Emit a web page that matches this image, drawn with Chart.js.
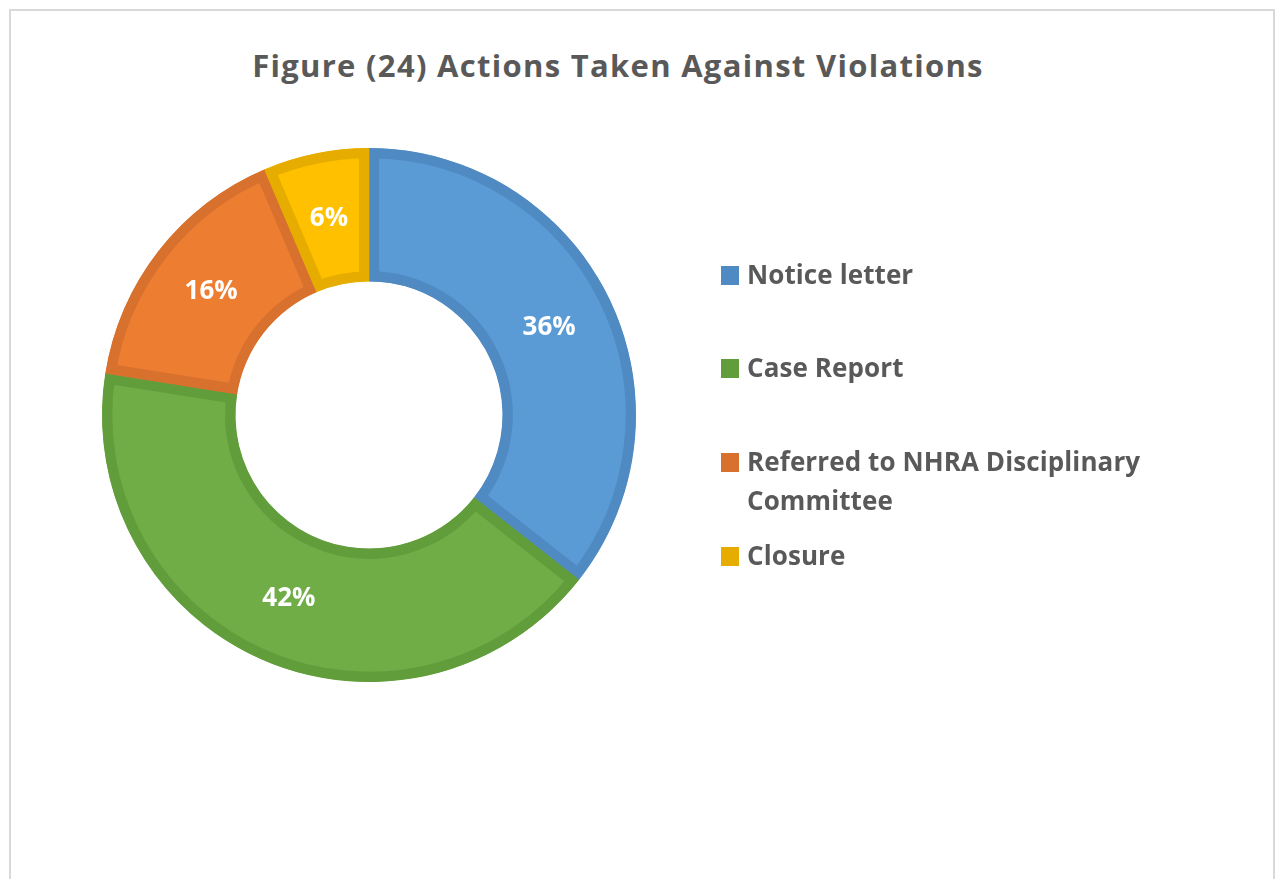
<!DOCTYPE html>
<html>
<head>
<meta charset="utf-8">
<script src="https://cdn.jsdelivr.net/npm/chart.js@4/dist/chart.umd.min.js"></script>
<style>
  html, body {
    margin: 0;
    padding: 0;
    background: #ffffff;
    width: 1276px;
    height: 879px;
    overflow: hidden;
  }

  #frame {
    position: absolute;
    left: 9px;
    top: 9px;
    width: 1262px;
    height: 900px;
    border: 2px solid #d9d9d9;
    box-sizing: content-box;
  }

  #title {
    position: absolute;
    left: 0;
    top: 50px;
    width: 1236px;
    text-align: center;
    font-family: "Open Sans", sans-serif;
    font-weight: bold;
    font-size: 31px;
    line-height: 31px;
    color: #595959;
    letter-spacing: 1.3px;
    white-space: nowrap;
  }

  #chartBox {
    position: absolute;
    left: 0;
    top: 0;
  }

  #legend {
    position: absolute;
    left: 721px;
    top: 0;
  }

  .legend-item {
    position: absolute;
    left: 0;
    width: 480px;
  }

  .legend-box {
    position: absolute;
    left: 0;
    top: 11px;
    width: 18px;
    height: 19px;
  }

  .legend-text {
    position: absolute;
    left: 26px;
    top: 0;
    width: 430px;
    font-family: "Open Sans", sans-serif;
    font-weight: bold;
    font-size: 26px;
    line-height: 39px;
    color: #595959;
    letter-spacing: 0.1px;
  }
</style>
</head>
<body>

<div id="frame"></div>

<div id="title">Figure (24) Actions Taken Against Violations</div>

<canvas id="chartBox" width="1276" height="879"></canvas>

<div id="legend"></div>

<script>

  // data (share of actions, %)
  const labels = [
    'Notice letter',
    'Case Report',
    'Referred to NHRA Disciplinary Committee',
    'Closure'
  ];

  const values = [35.6, 41.9, 16.1, 6.4];

  const fillColors = ['#5b9bd5', '#70ad47', '#ed7d31', '#ffc000'];

  const edgeColors = ['#4f8ac2', '#629d3c', '#d7712d', '#e6ad00'];

  // percentages written inside each slice
  const sliceLabels = {

    id: 'sliceLabels',

    afterDatasetsDraw(chart) {

      const ctx = chart.ctx;

      const meta = chart.getDatasetMeta(0);

      const data = chart.data.datasets[0].data;

      const total = data.reduce((a, b) => a + b, 0);

      ctx.save();

      ctx.font = 'bold 26px "Open Sans", sans-serif';
      ctx.fillStyle = '#ffffff';
      ctx.textAlign = 'center';
      ctx.textBaseline = 'middle';

      meta.data.forEach((arc, i) => {

        const pos = arc.tooltipPosition();

        const pct = Math.round(data[i] / total * 100);

        ctx.fillText(pct + '%', pos.x, pos.y);
      });

      ctx.restore();
    }
  };

  const ctx =
    document
      .getElementById('chartBox')
      .getContext('2d');

  const chart = new Chart(ctx, {

    type: 'doughnut',

    data: {

      labels: labels,

      datasets: [
        {
          data: values,

          backgroundColor: fillColors,

          borderColor: edgeColors,

          borderWidth: 10,

          borderAlign: 'inner',

          hoverOffset: 0,

          offset: 0
        }
      ]
    },

    options: {

      responsive: false,

      animation: false,

      events: [],

      cutout: '50%',

      layout: {

        padding: {
          left: 102,
          top: 148,
          right: 640,
          bottom: 197
        }
      },

      plugins: {

        legend: {
          display: false
        },

        title: {
          display: false
        },

        tooltip: {
          enabled: false
        }
      }
    },

    plugins: [sliceLabels]
  });

  // legend on the right, one slot per category
  const legendEl = document.getElementById('legend');

  const rowTop = 254.6;
  const rowPitch = 93.7;

  labels.forEach((name, i) => {

    const item = document.createElement('div');
    item.className = 'legend-item';
    item.style.top = (rowTop + rowPitch * i) + 'px';

    const box = document.createElement('div');
    box.className = 'legend-box';
    box.style.background = edgeColors[i];

    const text = document.createElement('div');
    text.className = 'legend-text';
    text.textContent = name;

    item.appendChild(box);
    item.appendChild(text);

    legendEl.appendChild(item);
  });

</script>
</body>
</html>
